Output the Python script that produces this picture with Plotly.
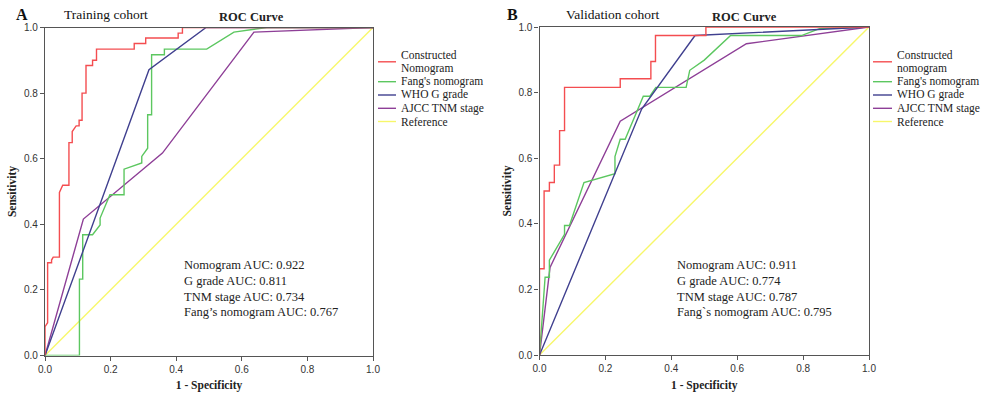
import plotly.graph_objects as go

W, H = 987, 398

SERIES = ["Constructed Nomogram", "Fang's nomogram", "WHO G grade", "AJCC TNM stage", "Reference"]
LEGEND_LEFT = ["Constructed<br>Nomogram", "Fang's nomogram", "WHO G grade", "AJCC TNM stage", "Reference"]
LEGEND_RIGHT = ["Constructed<br>nomogram", "Fang's nomogram", "WHO G grade", "AJCC TNM stage", "Reference"]
COLORS = ["#F44D50", "#5CC760", "#40408F", "#8E3F97", "#F7F76A"]

TICKS = [0.0, 0.2, 0.4, 0.6, 0.8, 1.0]

# ---- Training cohort (panel A) ----
train_nomo_fpr = [0, 0, 0.008, 0.008, 0.02, 0.02, 0.025, 0.044, 0.044, 0.054, 0.054, 0.073, 0.073,
                  0.083, 0.083, 0.095, 0.104, 0.104, 0.113, 0.113, 0.125, 0.125, 0.145, 0.145,
                  0.157, 0.157, 0.272, 0.272, 0.307, 0.307, 0.406, 0.406, 0.419, 0.419, 1.0]
train_nomo_tpr = [0, 0.088, 0.10, 0.283, 0.283, 0.291, 0.30, 0.30, 0.497, 0.515, 0.519, 0.519, 0.649,
                  0.649, 0.683, 0.70, 0.70, 0.717, 0.717, 0.80, 0.80, 0.884, 0.884, 0.90,
                  0.90, 0.934, 0.934, 0.951, 0.951, 0.968, 0.968, 0.983, 0.983, 1.0, 1.0]
train_fang_fpr = [0, 0.105, 0.105, 0.115, 0.115, 0.145, 0.168, 0.168, 0.198, 0.241, 0.241, 0.29,
                  0.295, 0.295, 0.313, 0.313, 0.325, 0.325, 0.364, 0.364, 0.493, 0.576, 0.676, 1.0]
train_fang_tpr = [0, 0, 0.233, 0.233, 0.368, 0.368, 0.398, 0.419, 0.49, 0.49, 0.568, 0.587,
                  0.587, 0.607, 0.632, 0.734, 0.734, 0.917, 0.917, 0.934, 0.934, 0.986, 1.0, 1.0]
train_who_fpr = [0, 0.317, 0.491, 1.0]
train_who_tpr = [0, 0.871, 1.0, 1.0]
train_tnm_fpr = [0, 0.117, 0.358, 0.637, 1.0]
train_tnm_tpr = [0, 0.416, 0.617, 0.986, 1.0]

# ---- Validation cohort (panel B) ----
valid_nomo_fpr = [0, 0, 0.014, 0.014, 0.03, 0.03, 0.045, 0.045, 0.061, 0.061, 0.076, 0.076,
                  0.245, 0.245, 0.338, 0.338, 0.352, 0.352, 0.505, 0.505, 1.0]
valid_nomo_tpr = [0, 0.263, 0.263, 0.50, 0.50, 0.526, 0.526, 0.579, 0.579, 0.684, 0.684, 0.816,
                  0.816, 0.842, 0.842, 0.895, 0.895, 0.974, 0.974, 1.0, 1.0]
valid_fang_fpr = [0, 0.017, 0.03, 0.03, 0.076, 0.076, 0.091, 0.135, 0.229, 0.229, 0.245, 0.26,
                  0.315, 0.335, 0.353, 0.445, 0.456, 0.50, 0.58, 0.795, 0.85, 1.0]
valid_fang_tpr = [0, 0.237, 0.237, 0.289, 0.368, 0.395, 0.395, 0.526, 0.553, 0.605, 0.658, 0.658,
                  0.789, 0.789, 0.816, 0.816, 0.868, 0.899, 0.974, 0.974, 0.995, 1.0]
valid_who_fpr = [0, 0.31, 0.472, 1.0]
valid_who_tpr = [0, 0.75, 0.974, 1.0]
valid_tnm_fpr = [0, 0.032, 0.245, 0.628, 1.0]
valid_tnm_tpr = [0, 0.267, 0.713, 0.949, 1.0]

ref_fpr = [0, 1.0]
ref_tpr = [0, 1.0]

AUC_LEFT = ["Nomogram AUC: 0.922", "G grade AUC: 0.811", "TNM stage AUC: 0.734", "Fang\u2019s nomogram AUC: 0.767"]
AUC_RIGHT = ["Nomogram AUC: 0.911", "G grade AUC: 0.774", "TNM stage AUC: 0.787", "Fang`s nomogram AUC: 0.795"]

panels = [
    dict(xa="x", ya="y",
         curves=[(train_nomo_fpr, train_nomo_tpr), (train_fang_fpr, train_fang_tpr),
                 (train_who_fpr, train_who_tpr), (train_tnm_fpr, train_tnm_tpr), (ref_fpr, ref_tpr)]),
    dict(xa="x2", ya="y2",
         curves=[(valid_nomo_fpr, valid_nomo_tpr), (valid_fang_fpr, valid_fang_tpr),
                 (valid_who_fpr, valid_who_tpr), (valid_tnm_fpr, valid_tnm_tpr), (ref_fpr, ref_tpr)]),
]

fig = go.Figure()
# draw reference first so it lies beneath the others
order = [4, 3, 1, 2, 0]
for p in panels:
    for i in order:
        xs, ys = p["curves"][i]
        fig.add_trace(go.Scatter(x=xs, y=ys, mode="lines", name=SERIES[i],
                                 line=dict(color=COLORS[i], width=1.4),
                                 xaxis=p["xa"], yaxis=p["ya"], showlegend=False,
                                 hoverinfo="skip", cliponaxis=False))

def px_x(v):
    return v / W

def px_y(v):
    return 1 - v / H

SERIF = "Liberation Serif, Times New Roman, serif"
SANS = "Liberation Sans, Arial, sans-serif"

axis_common = dict(range=[0, 1], tickvals=TICKS, ticktext=["%.1f" % t for t in TICKS],
                   showgrid=False, zeroline=False, showline=True, mirror=True, automargin=False,
                   linecolor="#555555", linewidth=1.3, ticks="outside", ticklen=4,
                   tickcolor="#555555", tickfont=dict(family=SANS, size=10, color="#333333"),
                   fixedrange=True)

L = dict(x0=45, x1=373, y0=27.5, y1=355.5)
R = dict(x0=539.5, x1=869, y0=27, y1=355)

TITLE_FONT = dict(family=SERIF, size=11.5, color="#222")

fig.update_layout(
    width=W, height=H, margin=dict(l=0, r=0, t=0, b=0, autoexpand=False),
    paper_bgcolor="white", plot_bgcolor="white", showlegend=False,
    xaxis=dict(domain=[px_x(L["x0"]), px_x(L["x1"])], anchor="y",
               title=dict(text="<b>1 - Specificity</b>", font=TITLE_FONT, standoff=7), **axis_common),
    yaxis=dict(domain=[px_y(L["y1"]), px_y(L["y0"])], anchor="x",
               title=dict(text="<b>Sensitivity</b>", font=TITLE_FONT, standoff=4), **axis_common),
    xaxis2=dict(domain=[px_x(R["x0"]), px_x(R["x1"])], anchor="y2",
                title=dict(text="<b>1 - Specificity</b>", font=TITLE_FONT, standoff=7), **axis_common),
    yaxis2=dict(domain=[px_y(R["y1"]), px_y(R["y0"])], anchor="x2",
                title=dict(text="<b>Sensitivity</b>", font=TITLE_FONT, standoff=4), **axis_common),
)

ann = []
# panel letters and titles
ann.append(dict(x=px_x(14), y=px_y(15), text="<b>A</b>", font=dict(family=SERIF, size=16, color="#111")))
ann.append(dict(x=px_x(62), y=px_y(15), text="Training cohort", font=dict(family=SERIF, size=13.5, color="#111")))
ann.append(dict(x=px_x(217), y=px_y(17), text="<b>ROC Curve</b>", font=dict(family=SERIF, size=12.5, color="#222")))
ann.append(dict(x=px_x(505), y=px_y(15), text="<b>B</b>", font=dict(family=SERIF, size=16, color="#111")))
ann.append(dict(x=px_x(564), y=px_y(15), text="Validation cohort", font=dict(family=SERIF, size=13.5, color="#111")))
ann.append(dict(x=px_x(710), y=px_y(17), text="<b>ROC Curve</b>", font=dict(family=SERIF, size=12.5, color="#222")))
for a in ann:
    a.update(xref="paper", yref="paper", xanchor="left", yanchor="middle", showarrow=False)

# AUC text blocks
auc_rows = [265, 280.7, 296.5, 312.3]
for x0, texts in [(182, AUC_LEFT), (675, AUC_RIGHT)]:
    for yy, t in zip(auc_rows, texts):
        ann.append(dict(x=px_x(x0), y=px_y(yy), text=t, xref="paper", yref="paper",
                        xanchor="left", yanchor="middle", showarrow=False,
                        font=dict(family=SERIF, size=12.5, color="#222")))

# manual legends
shapes = []
leg_line_y = [61.8, 81.7, 95.0, 108.3, 121.5]
for lx0, lx1, tx, labels in [(378, 396, 399, LEGEND_LEFT), (873, 892, 895, LEGEND_RIGHT)]:
    for i, lab in enumerate(labels):
        shapes.append(dict(type="line", xref="paper", yref="paper",
                           x0=px_x(lx0), x1=px_x(lx1), y0=px_y(leg_line_y[i]), y1=px_y(leg_line_y[i]),
                           line=dict(color=COLORS[i], width=1.4)))
        parts = lab.split("<br>")
        if len(parts) == 2:
            for k, part in enumerate(parts):
                ann.append(dict(x=px_x(tx), y=px_y(leg_line_y[i] - 6.6 + 13.3 * k), text=part,
                                xref="paper", yref="paper", xanchor="left", yanchor="middle",
                                showarrow=False, font=dict(family=SERIF, size=11.5, color="#222")))
        else:
            ann.append(dict(x=px_x(tx), y=px_y(leg_line_y[i]), text=lab,
                            xref="paper", yref="paper", xanchor="left", yanchor="middle",
                            showarrow=False, font=dict(family=SERIF, size=11.5, color="#222")))

fig.update_layout(annotations=ann, shapes=shapes)
fig.write_html("out.html", config={"displayModeBar": False},
               post_script="document.body.style.margin='0px';document.body.style.padding='0px';")
